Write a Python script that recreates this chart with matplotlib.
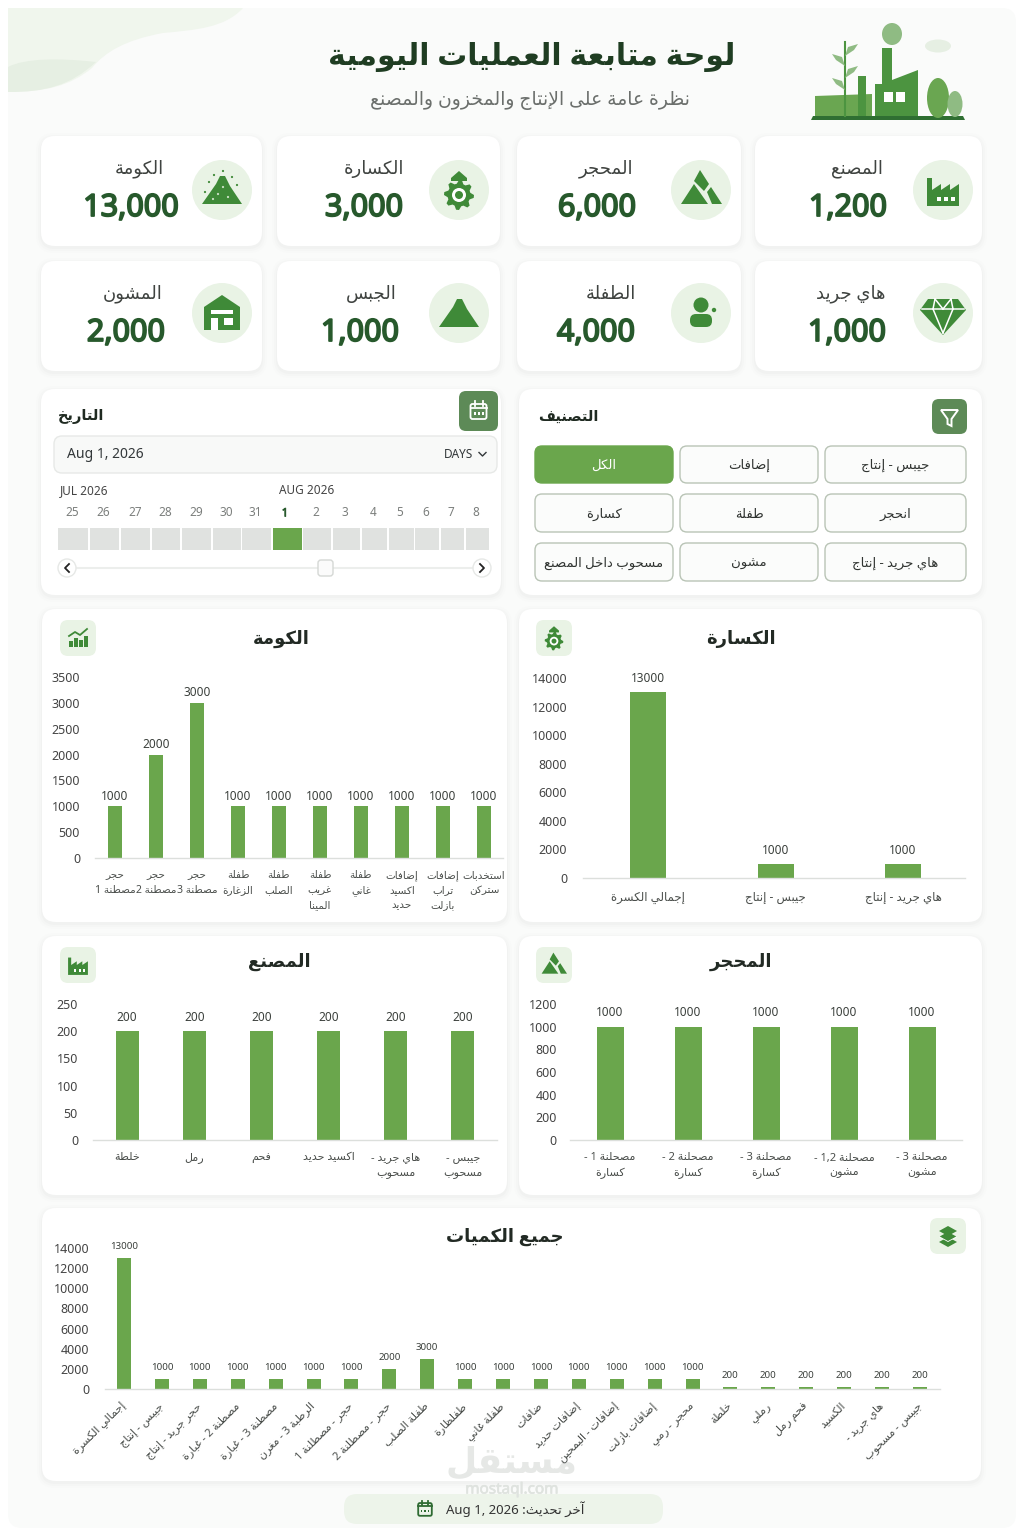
import re
import numpy as np
import matplotlib
matplotlib.use('Agg')
import matplotlib.pyplot as plt
import matplotlib.patheffects as pe
from matplotlib.patches import FancyBboxPatch, Circle, Ellipse, Polygon, Rectangle, PathPatch
from matplotlib.path import Path

plt.rcParams['font.family'] = ['Noto Sans', 'DejaVu Sans']

GREEN = '#6aa64c'
DARK = '#27592c'
ICON = '#3f8a38'
PALE = '#e9f3e5'
TXT = '#3b403c'

# kpi cards, right to left as in the picture
kpi_names = ['المصنع', 'المحجر', 'الكسارة', 'الكومة', 'هاي جريد', 'الطفلة', 'الجبس', 'المشون']
kpi_values = ['1,200', '6,000', '3,000', '13,000', '1,000', '4,000', '1,000', '2,000']

days = ['25', '26', '27', '28', '29', '30', '31', '1', '2', '3', '4', '5', '6', '7', '8']
filter_labels = ['الكل', 'إضافات', 'جيبس - إنتاج', 'كسارة', 'طفلة', 'انحجر',
                 'مسحوب داخل المصنع', 'مشون', 'هاي جريد - إنتاج']

kawma_labels = ['حجر\nمصطنة 1', 'حجر\nمصطنة 2', 'حجر\nمصطنة 3', 'طفلة\nالزغارة', 'طفلة\nالصلب',
                'طفلة\nغريب\nالمينا', 'طفلة\nغاني', 'إضافات\nاكسيد\nحديد', 'إضافات\nتراب\nبازلت',
                'استخدبات\nستركن']
kawma_values = [1000, 2000, 3000, 1000, 1000, 1000, 1000, 1000, 1000, 1000]

kassara_labels = ['إجمالي الكسرة', 'جيبس - إنتاج', 'هاي جريد - إنتاج']
kassara_values = [13000, 1000, 1000]

masnaa_labels = ['خلطة', 'رمل', 'فحم', 'اكسيد حديد', 'هاي جريد -\nمسحوب', 'جيبس -\nمسحوب']
masnaa_values = [200, 200, 200, 200, 200, 200]

mahjar_labels = ['مصحلنة 1 -\nكسارة', 'مصحلنة 2 -\nكسارة', 'مصحلنة 3 -\nكسارة',
                 'مصحلنة 1,2 -\nمشون', 'مصحلنة 3 -\nمشون']
mahjar_values = [1000, 1000, 1000, 1000, 1000]

all_labels = ['إجمالي الكسرة', 'جيبس - إنتاج', 'حجر جريد - إنتاج', 'مصطنة 2 - غبارة', 'مصطنة 3 - غبارة',
              'الرطبة 3 - مغرن', 'حجر - مصطلنة 1', 'حجر - مصطلنة 2', 'طفلة الصلب', 'طفلظارة', 'طفلة غاني',
              'ضافات', 'إضافات حديد', 'إضافات - البمحين', 'إضافات بازلت', 'محجر - رمي', 'خلطة', 'رملي',
              'فحم رمل', 'الكسيد', 'هاي جريد -', 'جيبس - مسحوب']
all_values = [13000, 1000, 1000, 1000, 1000, 1000, 1000, 2000, 3000, 1000, 1000, 1000, 1000, 1000,
              1000, 1000, 200, 200, 200, 200, 200, 200]

# matplotlib does no arabic shaping, so pick the presentation forms here
FORMS = {'ء': (0xFE80, 1), 'آ': (0xFE81, 2), 'أ': (0xFE83, 2), 'ؤ': (0xFE85, 2), 'إ': (0xFE87, 2),
         'ئ': (0xFE89, 4), 'ا': (0xFE8D, 2), 'ب': (0xFE8F, 4), 'ة': (0xFE93, 2), 'ت': (0xFE95, 4),
         'ث': (0xFE99, 4), 'ج': (0xFE9D, 4), 'ح': (0xFEA1, 4), 'خ': (0xFEA5, 4), 'د': (0xFEA9, 2),
         'ذ': (0xFEAB, 2), 'ر': (0xFEAD, 2), 'ز': (0xFEAF, 2), 'س': (0xFEB1, 4), 'ش': (0xFEB5, 4),
         'ص': (0xFEB9, 4), 'ض': (0xFEBD, 4), 'ط': (0xFEC1, 4), 'ظ': (0xFEC5, 4), 'ع': (0xFEC9, 4),
         'غ': (0xFECD, 4), 'ف': (0xFED1, 4), 'ق': (0xFED5, 4), 'ك': (0xFED9, 4), 'ل': (0xFEDD, 4),
         'م': (0xFEE1, 4), 'ن': (0xFEE5, 4), 'ه': (0xFEE9, 4), 'و': (0xFEED, 2), 'ى': (0xFEEF, 2),
         'ي': (0xFEF1, 4)}
LAM_ALEF = {'آ': 0xFEF5, 'أ': 0xFEF7, 'إ': 0xFEF9, 'ا': 0xFEFB}


def shape_line(s):
    out = []
    i = 0
    while i < len(s):
        c = s[i]
        if c not in FORMS:
            out.append(c)
            i += 1
            continue
        prev = s[i - 1] if i > 0 else ''
        prev_joins = prev in FORMS and FORMS[prev][1] == 4
        nxt = s[i + 1] if i + 1 < len(s) else ''
        if c == 'ل' and nxt in LAM_ALEF:
            out.append(chr(LAM_ALEF[nxt] + (1 if prev_joins else 0)))
            i += 2
            continue
        start, n = FORMS[c]
        next_joins = nxt in FORMS
        if n == 4 and prev_joins and next_joins:
            form = 3
        elif n >= 2 and prev_joins:
            form = 1
        elif n == 4 and next_joins:
            form = 2
        else:
            form = 0
        out.append(chr(start + form))
        i += 1
    line = ''.join(out)[::-1]
    # latin and digit runs read left to right
    return re.sub(r'[A-Za-z0-9][A-Za-z0-9 ,.]*[A-Za-z0-9]', lambda m: m.group(0)[::-1], line)


def ar(s):
    return '\n'.join(shape_line(p) for p in s.split('\n'))


fig = plt.figure(figsize=(10.24, 15.36), dpi=100, facecolor='white')
bg = fig.add_axes([0, 0, 1, 1])
bg.set_xlim(0, 1024)
bg.set_ylim(1536, 0)
bg.axis('off')


def rbox(x0, y0, x1, y1, r=12, fc='white', ec='none', lw=0, z=2):
    p = FancyBboxPatch((x0 + r, y0 + r), x1 - x0 - 2 * r, y1 - y0 - 2 * r,
                       boxstyle='round,pad=%f,rounding_size=%f' % (r, r),
                       fc=fc, ec=ec, lw=lw, zorder=z)
    bg.add_patch(p)
    return p


def card(x0, y0, x1, y1, r=14):
    for grow, col in [(5, '#f8f9f8'), (3, '#f5f6f5'), (1, '#f1f2f1')]:
        rbox(x0 - grow, y0 - grow + 2, x1 + grow, y1 + grow + 2, r + grow, fc=col, z=1)
    rbox(x0, y0, x1, y1, r, fc='white', z=2)


def poly(pts, cx=0, cy=0, s=1.0, c=ICON, z=4):
    bg.add_patch(Polygon([(cx + x * s, cy + y * s) for x, y in pts], closed=True, fc=c, ec='none', zorder=z))


def txt(x, y, s, size=10, c=TXT, ha='center', weight='normal', z=5, heavy=0):
    t = bg.text(x, y, s, fontsize=size, color=c, ha=ha, va='center', fontweight=weight, zorder=z)
    if heavy:
        t.set_path_effects([pe.withStroke(linewidth=heavy, foreground=c)])


# icons
def ic_factory(cx, cy, s=1.0, c=ICON):
    poly([(-16, 16), (-16, -12), (-11, -12), (-11, 0), (-2, -6), (-2, 0), (7, -6), (7, 0), (16, -6), (16, 16)], cx, cy, s, c)
    for dx in (-6, 1, 8):
        bg.add_patch(Rectangle((cx + dx * s, cy + 7 * s), 3.5 * s, 3.5 * s, fc='white', zorder=5))


def ic_mountain(cx, cy, s=1.0, c=ICON):
    poly([(-1, -20), (8, -6), (3, 1), (-7, -9)], cx, cy, s, c)
    poly([(-20, 14), (-7, -6), (7, 14)], cx, cy, s, c)
    poly([(6, 2), (10, -3), (21, 14), (11, 14)], cx, cy, s, c)


def ic_gear(cx, cy, s=1.0, c=ICON):
    ang = np.linspace(0, 2 * np.pi, 33)[:-1]
    rad = np.where(np.mod(np.arange(32), 4) < 2, 15, 11.5)
    poly(list(zip(rad * np.cos(ang), rad * np.sin(ang))), cx, cy + 5 * s, s, c)
    bg.add_patch(Circle((cx, cy + 5 * s), 7 * s, fc='white', zorder=5))
    bg.add_patch(Circle((cx, cy + 5 * s), 4 * s, fc=c, zorder=6))
    poly([(-8, -12), (0, -19), (8, -12), (8, -9), (-8, -9)], cx, cy, s, c)


def ic_heap(cx, cy, s=1.0, c=ICON):
    poly([(-20, 14), (-6, -6), (-2, -14), (3, -14), (8, -4), (20, 14)], cx, cy, s, c)


def ic_speck(cx, cy, s=1.0, c=ICON):
    ic_heap(cx, cy, s, c)
    for dx, dy in [(-13, -8), (-8, -15), (1, -19), (10, -13), (15, -5), (-17, 2), (-4, 4), (6, 7), (-9, 9), (1, -3)]:
        bg.add_patch(Circle((cx + dx * s, cy + dy * s), 1.1 * s, fc='#cfe3c8' if dy > -6 and abs(dx) < 11 else c, zorder=5))


def ic_person(cx, cy, s=1.0, c=ICON):
    bg.add_patch(Circle((cx, cy - 8 * s), 7.5 * s, fc=c, zorder=4))
    bg.add_patch(FancyBboxPatch((cx - 11 * s, cy + 1 * s), 22 * s, 13 * s,
                                boxstyle='round,pad=0,rounding_size=%f' % (6 * s), fc=c, ec='none', zorder=4))
    bg.add_patch(Circle((cx + 13 * s, cy - 3 * s), 2.2 * s, fc=c, zorder=4))


def ic_diamond(cx, cy, s=1.0, c=ICON):
    poly([(-15, -14), (15, -14), (23, -3), (0, 22), (-23, -3)], cx, cy, s, c)
    bg.plot([cx - 21 * s, cx + 21 * s], [cy - 4 * s, cy - 4 * s], color='white', lw=1.1, zorder=5)
    for a, b in [((-8, -14), (-10, -4)), ((8, -14), (10, -4)), ((-10, -4), (0, 20)), ((10, -4), (0, 20)),
                 ((-8, -14), (0, -4)), ((8, -14), (0, -4))]:
        bg.plot([cx + a[0] * s, cx + b[0] * s], [cy + a[1] * s, cy + b[1] * s], color='white', lw=1.1, zorder=5)


def ic_house(cx, cy, s=1.0, c=ICON):
    poly([(-18, -6), (0, -18), (18, -6), (18, 17), (-18, 17)], cx, cy, s, c)
    poly([(-11, -3), (11, -3), (11, 1), (-11, 1)], cx, cy, s, 'white')
    poly([(-11, 5), (-4, 5), (-4, 17), (-11, 17)], cx, cy, s, 'white')
    poly([(2, 5), (11, 5), (11, 12), (2, 12)], cx, cy, s, 'white')


def ic_bars(cx, cy, s=1.0, c=ICON):
    for dx, h in [(-9, 6), (-4, 9), (1, 7), (6, 11)]:
        bg.add_patch(Rectangle((cx + dx * s, cy + (9 - h) * s), 3.6 * s, h * s, fc=c, zorder=5))
    bg.plot([cx - 9 * s, cx - 3 * s, cx + 2 * s, cx + 9 * s], [cy - 2 * s, cy - 6 * s, cy - 3 * s, cy - 9 * s],
            color=c, lw=1.3, zorder=5)


def ic_layers(cx, cy, s=1.0, c=ICON):
    poly([(-9, 6), (0, 1), (9, 6), (0, 11)], cx, cy, s, c)
    poly([(-9, 1), (0, -4), (9, 1), (0, 6)], cx, cy, s, 'white')
    poly([(-9, 0.5), (0, -4.5), (9, 0.5), (0, 5.5)], cx, cy, s * 0.92, c)
    poly([(-9, -5), (0, -10), (9, -5), (0, 0)], cx, cy, s, c)


def ic_calendar(cx, cy, s=1.0, c='white', z=5):
    bg.add_patch(FancyBboxPatch((cx - 8 * s, cy - 7 * s), 16 * s, 15 * s, boxstyle='round,pad=0,rounding_size=%f' % (2 * s),
                                fc='none', ec=c, lw=1.3, zorder=z))
    bg.plot([cx - 8 * s, cx + 8 * s], [cy - 3 * s, cy - 3 * s], color=c, lw=1.3, zorder=z)
    for dx in (-4, 4):
        bg.plot([cx + dx * s, cx + dx * s], [cy - 10 * s, cy - 5 * s], color=c, lw=1.3, zorder=z)
    for dx in (-4, 0, 4):
        bg.add_patch(Rectangle((cx + (dx - 1) * s, cy + 1 * s), 2 * s, 3 * s, fc=c, zorder=z))


# page background and corner wave
rbox(8, 8, 1016, 1528, 14, fc='#fafbfa', z=0)
C3, C4, L = Path.CURVE3, Path.CURVE4, Path.LINETO
wave = Path([(8, 8), (243, 8), (225, 28), (195, 30), (163, 33), (125, 40), (105, 52), (92, 68),
             (70, 86), (45, 92), (8, 92), (8, 8)],
            [Path.MOVETO, L, C4, C4, C4, C4, C4, C4, C4, C4, C4, Path.CLOSEPOLY])
bg.add_patch(PathPatch(wave, fc='#f0f6ed', ec='none', zorder=0.5))
wave2 = Path([(8, 67), (25, 58), (60, 58), (96, 62), (70, 86), (45, 92), (8, 92), (8, 67)],
             [Path.MOVETO, C4, C4, C4, C4, C4, C4, Path.CLOSEPOLY])
bg.add_patch(PathPatch(wave2, fc='#e6efe3', ec='none', zorder=0.6))

# header
txt(532, 57, ar('لوحة متابعة العمليات اليومية'), 21.5, '#1f3d22', weight='bold')
txt(530, 101, ar('نظرة عامة على الإنتاج والمخزون والمصنع'), 13.5, '#6b6f6c')

# factory drawing top right
fg = '#4c9440'
poly([(811, 120), (965, 120), (963, 116), (813, 116)], c='#2f6f32')
poly([(815, 116), (815, 96), (872, 94), (872, 116)], c='#6aa651')
poly([(875, 116), (875, 84), (882, 84), (882, 48), (892, 48), (892, 80), (918, 70), (918, 116)], c=fg)
poly([(858, 116), (858, 76), (866, 76), (866, 116)], c=fg)
poly([(884, 92), (893, 92), (893, 102), (884, 102)], c='white', z=5)
poly([(896, 92), (905, 92), (905, 102), (896, 102)], c='white', z=5)
bg.add_patch(Ellipse((892, 34), 20, 22, fc='#8fbb83', ec='none', zorder=4))
bg.add_patch(Ellipse((938, 46), 26, 13, fc='#e6efe3', ec='none', zorder=4))
bg.add_patch(Ellipse((938, 98), 22, 40, fc='#6aa651', ec='none', zorder=4))
bg.add_patch(Ellipse((955, 104), 15, 26, fc='#8fbb83', ec='none', zorder=4))
bg.plot([845, 845], [42, 116], color='#4c9440', lw=1.5, zorder=4)
for ly, side in [(50, 1), (60, -1), (72, 1), (84, -1)]:
    poly([(845, ly + 6), (845 + 9 * side, ly), (845 + 13 * side, ly - 6), (845 + 3 * side, ly - 3)], c='#8fbb83')

# kpi cards
card_x = [(755, 982), (517, 741), (277, 500), (41, 262)]
card_y = [(136, 246), (261, 371)]
circle_x = [943, 701, 459, 222]
label_x = [[857, 606, 374, 139], [851, 611, 371, 133]]
value_x = [[848, 597, 364, 131], [847, 596, 360, 126]]
icons = [ic_factory, ic_mountain, ic_gear, ic_speck, ic_diamond, ic_person, ic_heap, ic_house]
for i, (name, val) in enumerate(zip(kpi_names, kpi_values)):
    row, col = i // 4, i % 4
    y0, y1 = card_y[row]
    x0, x1 = card_x[col]
    card(x0, y0, x1, y1)
    cy = y0 + 54 if row == 0 else y0 + 52
    bg.add_patch(Circle((circle_x[col], cy), 30, fc=PALE, zorder=3))
    icons[i](circle_x[col], cy, 1.0)
    txt(label_x[row][col], y0 + 33, ar(name), 13, '#3f4340')
    txt(value_x[row][col], y0 + 72, val, 22, DARK, heavy=1.3)

# date panel
card(41, 389, 501, 595)
txt(81, 417, ar('التاريخ'), 10.5, '#1f2a21', weight='bold')
rbox(459, 391, 498, 431, 7, fc='#5d8a57', z=4)
ic_calendar(478.5, 411, 1.0)
rbox(54, 436, 497, 473, 8, fc='#f8f9f8', ec='#e7e9e7', lw=1, z=3)
txt(67, 455, 'Aug 1, 2026', 10, '#33383a', ha='left')
txt(473, 455, 'DAYS', 8.5, '#33383a', ha='right')
bg.plot([479, 482.5, 486], [452.5, 456, 452.5], color='#33383a', lw=1, zorder=5)
txt(60, 491, 'JUL 2026', 8.5, '#444', ha='left')
txt(279, 491, 'AUG 2026', 8.5, '#444', ha='left')
day_x = [72, 103.5, 135, 165, 196, 226, 255, 285, 316, 345, 373, 400, 426, 451, 476]
cell_l = [58, 90, 121, 152, 182, 213, 242, 273, 303, 333, 362, 389, 415, 441, 466]
cell_r = [88, 119, 150, 180, 211, 241, 271, 302, 331, 360, 387, 414, 439, 464, 489]
for d, dx, l, r in zip(days, day_x, cell_l, cell_r):
    on = d == '1'
    txt(dx, 513, d, 8.5, DARK if on else '#7b7e7c', heavy=0.5 if on else 0)
    bg.add_patch(Rectangle((l, 528), r - l, 22, fc=GREEN if on else '#e0e2e0', ec='none', zorder=4))
bg.plot([77, 474], [568, 568], color='#eceeec', lw=1.5, zorder=3)
rbox(318, 560, 333, 576, 3, fc='#fbfbfb', ec='#d5d8d5', lw=1, z=4)
for ax_x, sgn in [(67, -1), (482, 1)]:
    bg.add_patch(Circle((ax_x, 568), 9, fc='white', ec='#e6e8e6', lw=1, zorder=4))
    bg.plot([ax_x - 2 * sgn, ax_x + 2 * sgn, ax_x - 2 * sgn], [564, 568, 572], color='#222', lw=1.3, zorder=5)

# filter panel
card(519, 389, 982, 595)
txt(568, 417, ar('التصنيف'), 10.5, '#1f2a21', weight='bold')
rbox(932, 399, 967, 434, 7, fc='#5d8a57', z=4)
bg.add_patch(Polygon([(941, 410), (958, 410), (951.5, 419), (951.5, 426), (947.5, 424), (947.5, 419)],
                     closed=True, fc='none', ec='white', lw=1.4, zorder=5))
btn_x = [(535, 673), (680, 818), (825, 966)]
btn_y = [(446, 483), (494, 532), (543, 581)]
for i, lab in enumerate(filter_labels):
    x0, x1 = btn_x[i % 3]
    y0, y1 = btn_y[i // 3]
    on = i == 0
    rbox(x0, y0, x1, y1, 7, fc=GREEN if on else '#fbfcfb', ec=GREEN if on else '#b9c4b6', lw=1, z=4)
    txt((x0 + x1) / 2, (y0 + y1) / 2 + 1, ar(lab), 9.5, 'white' if on else '#303431')


def pixel_axes(x0, x1, ytop, ybase):
    return fig.add_axes([x0 / 1024, 1 - ybase / 1536, (x1 - x0) / 1024, (ybase - ytop) / 1536], facecolor='none', zorder=3)


def chart(panel, title, title_x, icon, icon_x, icon_y, labels, values, centers, width, ytop, ybase, ymax, step,
          x_axis, tick_pad=11, val_size=8.5, val_pad=4, lab_size=8, lab_pad=8, rot=0):
    card(*panel)
    txt(title_x, icon_y + 1 if icon_y < 900 or icon_y > 1200 else icon_y - 3, ar(title), 13, '#222a24', weight='bold')
    rbox(icon_x - 18, icon_y - 18, icon_x + 18, icon_y + 18, 8, fc=PALE, z=4)
    icon(icon_x, icon_y, 0.62 if icon in (ic_factory, ic_mountain, ic_gear) else 1.0)
    ax = pixel_axes(x_axis[0], x_axis[1], ytop, ybase)
    x = np.arange(len(values))
    bar_w = width / (centers[1] - centers[0])
    bars = ax.bar(x, values, width=bar_w, color=GREEN)
    ax.bar_label(bars, labels=[str(v) for v in values], padding=val_pad, fontsize=val_size, color=TXT)
    pitch = centers[1] - centers[0]
    ax.set_xlim((x_axis[0] - centers[0]) / pitch, (x_axis[1] - centers[0]) / pitch)
    ax.set_ylim(0, ymax)
    ax.set_yticks(np.arange(0, ymax + 1, step))
    ax.tick_params(axis='y', length=0, labelsize=9, labelcolor='#444', pad=tick_pad)
    ax.set_xticks(x)
    shaped = [ar(s) for s in labels]
    if rot:
        ax.set_xticklabels(shaped, rotation=rot, ha='right', rotation_mode='anchor', va='center')
    else:
        ax.set_xticklabels(shaped, linespacing=1.45)
    ax.tick_params(axis='x', length=0, labelsize=lab_size, labelcolor='#4a4e4b', pad=lab_pad)
    for sp in ('top', 'left', 'right'):
        ax.spines[sp].set_visible(False)
    ax.spines['bottom'].set_color('#dcdfdc')
    ax.spines['bottom'].set_linewidth(1)
    return ax


chart((42, 609, 507, 922), 'الكومة', 281, ic_bars, 78, 638, kawma_labels, kawma_values,
      [115, 156], 14, 677, 858, 3500, 500, (95, 503), tick_pad=10.8, val_pad=2.5, lab_size=7.5, lab_pad=9)
chart((519, 609, 982, 922), 'الكسارة', 741, ic_gear, 554, 638, kassara_labels, kassara_values,
      [648, 775.5], 36, 678, 878, 14000, 2000, (583, 965), tick_pad=11.5, val_pad=5, lab_size=8.5, lab_pad=9)
chart((42, 936, 507, 1195), 'المصنع', 279, ic_factory, 78, 965, masnaa_labels, masnaa_values,
      [127, 194.2], 23, 1004, 1140, 250, 50, (93, 497), tick_pad=10.8, val_pad=5.5, lab_size=8, lab_pad=9)
chart((519, 936, 982, 1195), 'المحجر', 741, ic_mountain, 554, 965, mahjar_labels, mahjar_values,
      [610, 688], 27, 1004, 1140, 1200, 200, (570, 962), tick_pad=9.4, val_pad=5.5, lab_size=8, lab_pad=9)
chart((42, 1208, 981, 1481), 'جميع الكميات', 505, ic_layers, 948, 1236, all_labels, all_values,
      [124, 161.9], 14, 1248, 1389, 14000, 2000, (105, 940), tick_pad=11.5, val_size=7, val_pad=5, lab_size=8, lab_pad=11, rot=45)

# footer pill and watermark
rbox(344, 1494, 663, 1524, 13, fc='#edf4ea', z=2)
ic_calendar(425, 1509, 0.85, c='#2f6b33')
txt(515, 1509, ar('آخر تحديث: Aug 1, 2026'), 9.5, '#333')
txt(512, 1463, ar('مستقل'), 26, '#e6e8e6', weight='bold', z=6)
txt(512, 1490, 'mostaql.com', 11, '#dfe3df', heavy=0.4, z=3)

fig.savefig('out.png', dpi=100)
